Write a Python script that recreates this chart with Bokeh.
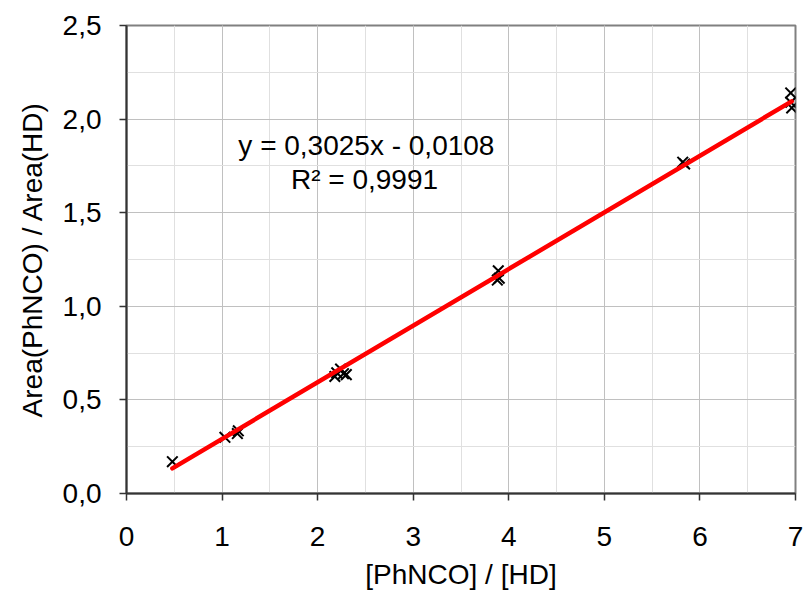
from bokeh.plotting import figure
from bokeh.models import SingleIntervalTicker, CustomJSTickFormatter, ColumnDataSource
from bokeh.core.properties import value
from bokeh.embed import file_html
from bokeh.resources import INLINE

# data
ratio_x = [0.48, 1.03, 1.17, 1.16, 2.18, 2.20, 2.24, 2.27, 2.30,
           3.88, 3.89, 3.90, 5.82, 5.84, 6.95, 6.95, 6.96]
area_y = [0.17, 0.30, 0.335, 0.32, 0.625, 0.645, 0.665, 0.64, 0.635,
          1.14, 1.19, 1.15, 1.77, 1.76, 2.14, 2.09, 2.06]
slope = 0.3025
intercept = -0.0108
eq_text = ["y = 0,3025x - 0,0108", "R\u00b2 = 0,9991"]
eq_x = [2.51, 2.49]
eq_y = [1.86, 1.675]

FONT = "Liberation Sans"

p = figure(width=804, height=592, x_range=(0, 7), y_range=(0, 2.5),
           output_backend="svg", toolbar_location=None,
           min_border_left=126, min_border_right=9, min_border_top=25,
           min_border_bottom=97)
p.background_fill_color = "white"
p.border_fill_color = "white"
p.outline_line_color = "#808080"
p.outline_line_width = 2

xt = SingleIntervalTicker(interval=1, num_minor_ticks=2)
yt = SingleIntervalTicker(interval=0.5, num_minor_ticks=2)
p.xaxis.ticker = xt
p.yaxis.ticker = yt
p.xgrid.ticker = xt
p.ygrid.ticker = yt

p.xaxis.formatter = CustomJSTickFormatter(code="return tick.toFixed(0);")
p.yaxis.formatter = CustomJSTickFormatter(code="return tick.toFixed(1).replace('.', ',');")

for g in (p.xgrid, p.ygrid):
    g.grid_line_color = "#c0c0c0"
    g.grid_line_width = 1
    g.minor_grid_line_color = "#e0e0e0"
    g.minor_grid_line_width = 1

for ax in (p.xaxis, p.yaxis):
    ax.axis_line_color = "#333333"
    ax.axis_line_width = 2
    ax.major_tick_line_color = "#333333"
    ax.major_tick_line_width = 1.5
    ax.major_tick_out = 7
    ax.major_tick_in = 0
    ax.minor_tick_line_color = None
    ax.major_label_text_font = FONT
    ax.major_label_text_font_size = "28px"
    ax.major_label_text_color = "black"
    ax.axis_label_text_font = FONT
    ax.axis_label_text_font_size = "28px"
    ax.axis_label_text_font_style = "normal"
    ax.axis_label_text_color = "black"

p.xaxis.axis_label = "[PhNCO] / [HD]"
p.yaxis.axis_label = "Area(PhNCO) / Area(HD)"
p.xaxis.major_label_standoff = 26
p.yaxis.major_label_standoff = 18
p.xaxis.axis_label_standoff = 10
p.yaxis.axis_label_standoff = 12

src = ColumnDataSource(dict(x=ratio_x, y=area_y))
p.scatter("x", "y", source=src, marker="x", size=15, line_color="black",
          line_width=2)

x0, x1 = min(ratio_x), max(ratio_x)
p.line([x0, x1], [slope * x0 + intercept, slope * x1 + intercept],
       line_color="#ff0000", line_width=4.5, line_cap="round")

p.text(x=eq_x, y=eq_y, text=eq_text, text_font=value(FONT),
       text_font_size="28px", text_align="center", text_baseline="middle",
       text_color="black")

open("out.html", "w").write(file_html(p, INLINE))
